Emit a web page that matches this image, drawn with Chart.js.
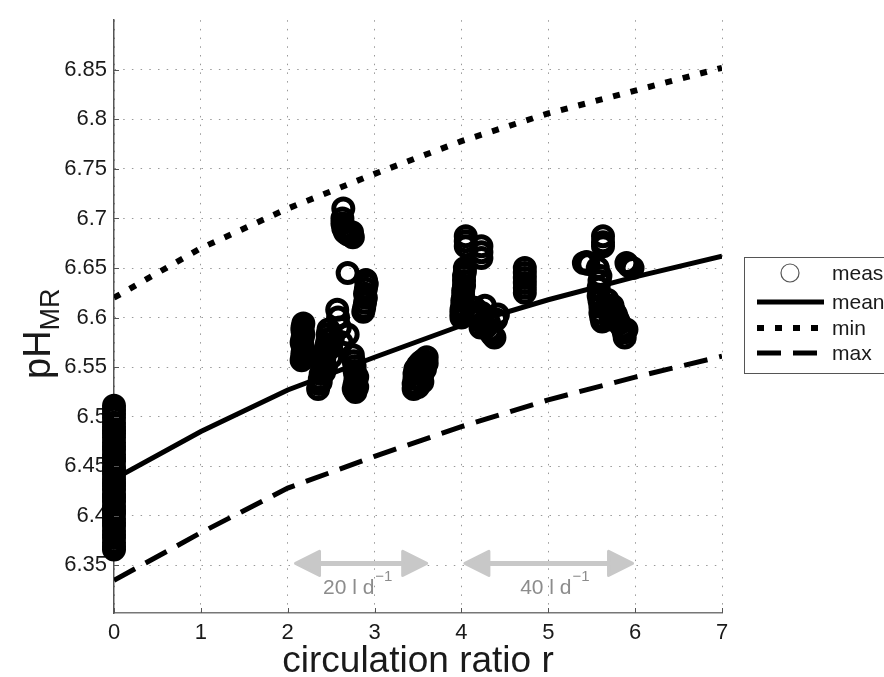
<!DOCTYPE html>
<html>
<head>
<meta charset="utf-8">
<script src="https://cdn.jsdelivr.net/npm/chart.js@4/dist/chart.umd.min.js"></script>
<style>
  html, body { margin: 0; padding: 0; background: #fff; }
  #wrap { width: 884px; height: 677px; }
</style>
</head>
<body>
<div id="wrap"><canvas id="phChart" width="884" height="677"></canvas></div>
<script>
// model curves, evaluated at integer circulation ratios
const curveX = [0, 1, 2, 3, 4, 5, 6, 7];
const meanY = [6.437, 6.485, 6.527, 6.56, 6.592, 6.618, 6.641, 6.662];
const minY = [6.62, 6.67, 6.71, 6.745, 6.778, 6.806, 6.829, 6.852];
const maxY = [6.335, 6.383, 6.428, 6.46, 6.49, 6.517, 6.54, 6.561];

const measX = [
  0, 0, 0, 0, 0, 0, 0, 0, 0, 0, 0, 0, 0, 0, 0, 0, 0, 0, 0,
  0, 0, 0, 0, 0, 0, 0, 0, 0, 0, 0, 0, 0, 0, 0, 0, 0, 0,
  2.16, 2.17, 2.17, 2.18, 2.17, 2.16, 2.17, 2.18, 2.17, 2.17, 2.18,
  2.35, 2.36, 2.37, 2.38, 2.4, 2.41, 2.42, 2.43, 2.44, 2.45, 2.46, 2.46, 2.47, 2.42, 2.44, 2.5, 2.5, 2.52, 2.38,
  2.57, 2.58, 2.69, 2.69, 2.6, 2.62,
  2.75, 2.76, 2.77, 2.77, 2.78, 2.78, 2.77, 2.76, 2.78, 2.8, 2.8,
  2.9, 2.91, 2.9, 2.89, 2.9, 2.89, 2.88, 2.87,
  2.64, 2.63, 2.63, 2.64, 2.66, 2.69, 2.72, 2.75, 2.74, 2.68,
  3.45, 3.45, 3.46, 3.46, 3.47, 3.5, 3.53, 3.56, 3.6, 3.6, 3.58, 3.55, 3.52, 3.5, 3.55,
  4.0, 4.0, 4.0, 4.01, 4.01, 4.02, 4.02, 4.03, 4.03, 4.03, 4.04, 4.04, 4.05, 4.05, 4.05,
  4.12, 4.15, 4.18, 4.2, 4.23, 4.25, 4.28, 4.3, 4.33, 4.35, 4.38, 4.4, 4.27, 4.22, 4.32, 4.42,
  4.23, 4.23, 4.23,
  4.73, 4.73, 4.73, 4.73, 4.73, 4.73,
  5.41, 5.44, 5.46,
  5.63, 5.63, 5.63, 5.57, 5.6, 5.59, 5.58, 5.58, 5.59, 5.6, 5.6, 5.61, 5.62,
  5.68, 5.7, 5.72, 5.74, 5.76, 5.78, 5.8, 5.82, 5.85, 5.87, 5.88, 5.9, 5.72, 5.75,
  5.9, 5.93, 5.97
];
const measY = [
  6.366, 6.369, 6.373, 6.378, 6.381, 6.385, 6.39, 6.393, 6.397, 6.402, 6.405, 6.409, 6.414, 6.418, 6.421, 6.426, 6.43, 6.433, 6.437,
  6.442, 6.446, 6.449, 6.455, 6.458, 6.462, 6.467, 6.47, 6.474, 6.479, 6.483, 6.486, 6.49, 6.494, 6.499, 6.503, 6.507, 6.511,
  6.557, 6.561, 6.564, 6.568, 6.572, 6.575, 6.579, 6.583, 6.587, 6.59, 6.594,
  6.528, 6.533, 6.538, 6.543, 6.548, 6.553, 6.558, 6.563, 6.568, 6.573, 6.578, 6.583, 6.588, 6.545, 6.55, 6.56, 6.57, 6.58, 6.535,
  6.608, 6.6, 6.645, 6.583, 6.59, 6.575,
  6.562, 6.556, 6.551, 6.546, 6.541, 6.536, 6.532, 6.528, 6.525, 6.53, 6.54,
  6.638, 6.634, 6.629, 6.624, 6.62, 6.615, 6.61, 6.606,
  6.71, 6.7, 6.695, 6.69, 6.686, 6.684, 6.683, 6.681, 6.686, 6.688,
  6.528, 6.533, 6.538, 6.543, 6.548, 6.552, 6.555, 6.557, 6.56, 6.554, 6.548, 6.542, 6.537, 6.53, 6.535,
  6.6, 6.604, 6.608, 6.612, 6.617, 6.622, 6.627, 6.632, 6.637, 6.642, 6.646, 6.65, 6.672, 6.677, 6.682,
  6.605, 6.61, 6.602, 6.598, 6.605, 6.595, 6.59, 6.6, 6.587, 6.583, 6.58, 6.598, 6.612, 6.59, 6.594, 6.603,
  6.672, 6.666, 6.66,
  6.625, 6.63, 6.635, 6.64, 6.645, 6.65,
  6.655, 6.656, 6.654,
  6.682, 6.676, 6.672, 6.65, 6.642, 6.637, 6.63, 6.622, 6.617, 6.611, 6.605, 6.6, 6.596,
  6.618, 6.612, 6.607, 6.612, 6.606, 6.603, 6.598, 6.594, 6.59, 6.585, 6.58, 6.588, 6.598, 6.6,
  6.655, 6.652, 6.65
];

const yTicks = [6.35, 6.4, 6.45, 6.5, 6.55, 6.6, 6.65, 6.7, 6.75, 6.8, 6.85];
const seriesLabels = ['measured', 'mean', 'min', 'max'];

// grey double arrows for the two flow rates
const arrowFrom = [2.09, 4.04];
const arrowTo = [3.6, 5.97];
const arrowAt = 6.352;
const arrowText = ['20 l d', '40 l d'];
const arrowTextX = [2.8, 5.07];

const FONT = "'Liberation Sans', Arial, sans-serif";

const toPts = (xs, ys) => xs.map((v, i) => ({ x: v, y: ys[i] }));

function drawArrow(ctx, x1, x2, y) {
  const head = 24, half = 12;
  ctx.save();
  ctx.strokeStyle = '#c8c8c8';
  ctx.fillStyle = '#c8c8c8';
  ctx.lineWidth = 5;
  ctx.beginPath();
  ctx.moveTo(x1 + head - 2, y);
  ctx.lineTo(x2 - head + 2, y);
  ctx.stroke();
  ctx.lineWidth = 3;
  ctx.lineJoin = 'round';
  ctx.beginPath();
  ctx.moveTo(x1, y);
  ctx.lineTo(x1 + head, y - half);
  ctx.lineTo(x1 + head, y + half);
  ctx.closePath();
  ctx.fill();
  ctx.stroke();
  ctx.beginPath();
  ctx.moveTo(x2, y);
  ctx.lineTo(x2 - head, y - half);
  ctx.lineTo(x2 - head, y + half);
  ctx.closePath();
  ctx.fill();
  ctx.stroke();
  ctx.restore();
}

const decorations = {
  id: 'decorations',
  beforeDraw(chart) {
    const ctx = chart.ctx;
    ctx.save();
    ctx.fillStyle = '#fff';
    ctx.fillRect(0, 0, chart.width, chart.height);
    ctx.restore();
  },
  beforeDatasetsDraw(chart) {
    const { ctx, scales: { x, y } } = chart;
    // arrows + flow labels
    arrowFrom.forEach((a, i) => {
      const py = y.getPixelForValue(arrowAt);
      drawArrow(ctx, x.getPixelForValue(a), x.getPixelForValue(arrowTo[i]), py);
      ctx.save();
      ctx.fillStyle = '#8c8c8c';
      ctx.textBaseline = 'alphabetic';
      const main = arrowText[i];
      ctx.font = '21px ' + FONT;
      const w1 = ctx.measureText(main).width;
      ctx.font = '15px ' + FONT;
      const w2 = ctx.measureText('\u22121').width;
      const cx = x.getPixelForValue(arrowTextX[i]);
      const left = cx - (w1 + w2) / 2;
      ctx.font = '21px ' + FONT;
      ctx.fillText(main, left, py + 31);
      ctx.font = '15px ' + FONT;
      ctx.fillText('\u22121', left + w1 + 1, py + 18);
      ctx.restore();
    });
  },
  afterDraw(chart) {
    const { ctx, scales: { x, y }, chartArea: ca } = chart;
    ctx.save();
    // inward tick marks
    ctx.strokeStyle = '#555';
    ctx.lineWidth = 1;
    y.ticks.forEach(t => {
      const py = Math.round(y.getPixelForValue(t.value)) + 0.5;
      ctx.beginPath();
      ctx.moveTo(ca.left, py);
      ctx.lineTo(ca.left + 5, py);
      ctx.stroke();
    });
    x.ticks.forEach(t => {
      const px = Math.round(x.getPixelForValue(t.value)) + 0.5;
      ctx.beginPath();
      ctx.moveTo(px, ca.bottom);
      ctx.lineTo(px, ca.bottom - 5);
      ctx.stroke();
    });

    // x title
    ctx.fillStyle = '#1a1a1a';
    ctx.font = '37px ' + FONT;
    ctx.textAlign = 'center';
    ctx.textBaseline = 'alphabetic';
    ctx.fillText('circulation ratio r', (ca.left + ca.right) / 2, 672);

    // y title with subscript
    ctx.save();
    ctx.translate(50, 379);
    ctx.rotate(-Math.PI / 2);
    ctx.textAlign = 'left';
    ctx.font = '38px ' + FONT;
    ctx.fillText('pH', 0, 0);
    const wp = ctx.measureText('pH').width;
    ctx.font = '27px ' + FONT;
    ctx.fillText('MR', wp, 9);
    ctx.restore();

    // legend box (runs off the right edge)
    ctx.fillStyle = '#fff';
    ctx.strokeStyle = '#555';
    ctx.lineWidth = 1;
    ctx.fillRect(744, 257, 160, 116);
    ctx.strokeRect(744.5, 257.5, 160, 116);
    const rowY = [273, 302, 328, 353];
    chart.data.datasets.forEach((ds, i) => {
      const ry = rowY[i];
      ctx.save();
      if (i === 0) {
        ctx.strokeStyle = '#555';
        ctx.lineWidth = 1.2;
        ctx.beginPath();
        ctx.arc(790, ry, 9, 0, Math.PI * 2);
        ctx.stroke();
      } else {
        ctx.strokeStyle = '#000';
        ctx.lineWidth = ds.borderWidth;
        ctx.setLineDash(ds.borderDash || []);
        ctx.beginPath();
        ctx.moveTo(757, ry);
        ctx.lineTo(824, ry);
        ctx.stroke();
      }
      ctx.restore();
      ctx.fillStyle = '#1a1a1a';
      ctx.font = '21px ' + FONT;
      ctx.textAlign = 'left';
      ctx.textBaseline = 'middle';
      ctx.fillText(ds.label, 832, ry + 1);
    });
    ctx.restore();
  }
};

const ctx = document.getElementById('phChart').getContext('2d');
new Chart(ctx, {
  type: 'scatter',
  data: {
    datasets: [
      {
        label: seriesLabels[0],
        data: toPts(measX, measY),
        pointRadius: 9.5,
        pointHoverRadius: 9.5,
        pointBorderWidth: 5,
        pointBorderColor: '#000',
        pointBackgroundColor: 'rgba(0,0,0,0)',
        borderWidth: 5,
        clip: false
      },
      {
        label: seriesLabels[1],
        data: toPts(curveX, meanY),
        showLine: true,
        borderColor: '#000',
        borderWidth: 5,
        pointRadius: 0,
        tension: 0
      },
      {
        label: seriesLabels[2],
        data: toPts(curveX, minY),
        showLine: true,
        borderColor: '#000',
        borderWidth: 6,
        borderDash: [7, 11],
        pointRadius: 0,
        tension: 0
      },
      {
        label: seriesLabels[3],
        data: toPts(curveX, maxY),
        showLine: true,
        borderColor: '#000',
        borderWidth: 5,
        borderDash: [24, 12],
        pointRadius: 0,
        tension: 0
      }
    ]
  },
  options: {
    responsive: false,
    animation: false,
    events: [],
    layout: { padding: { left: 0, top: 15, right: 162, bottom: 0 } },
    plugins: {
      legend: { display: false },
      tooltip: { enabled: false }
    },
    scales: {
      x: {
        type: 'linear',
        min: 0,
        max: 7,
        afterFit: s => { s.height = 64; },
        ticks: {
          stepSize: 1,
          padding: 7,
          color: '#1a1a1a',
          font: { family: FONT, size: 22 }
        },
        grid: { color: '#999', lineWidth: 1, drawTicks: false },
        border: { display: true, color: '#777', width: 1.5, dash: [1.5, 7.2] }
      },
      y: {
        type: 'linear',
        min: 6.302,
        max: 6.9,
        afterFit: s => { s.width = 114; },
        afterBuildTicks: s => { s.ticks = yTicks.map(v => ({ value: v })); },
        ticks: {
          padding: 7,
          color: '#1a1a1a',
          font: { family: FONT, size: 22 },
          callback: v => String(v)
        },
        grid: { color: '#999', lineWidth: 1, drawTicks: false },
        border: { display: true, color: '#555', width: 1.5, dash: [1.5, 7.2] }
      }
    }
  },
  plugins: [decorations]
});
</script>
</body>
</html>
